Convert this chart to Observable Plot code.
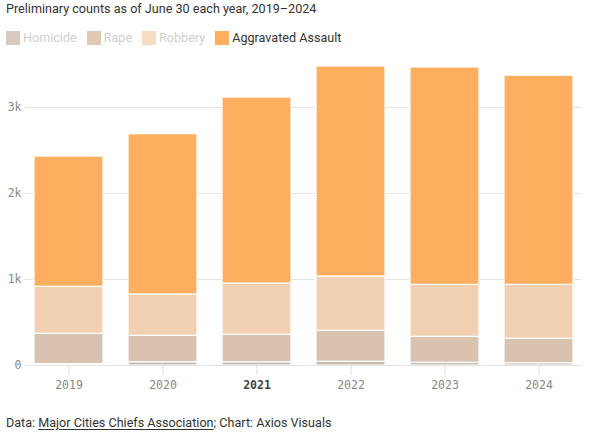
<!DOCTYPE html>
<html>
<head>
<meta charset="utf-8">
<script src="https://cdn.jsdelivr.net/npm/d3@7"></script>
<script src="https://cdn.jsdelivr.net/npm/@observablehq/plot@0.6"></script>
<style>
  html, body { margin: 0; padding: 0; background: #fff; }
  #wrap { position: relative; width: 615px; height: 435px; font-family: Roboto, "Noto Sans", sans-serif; color: #333; }
  #title { position: absolute; left: 6px; top: 1px; font-size: 12.6px; color: #333; white-space: nowrap; }
  #legend { position: absolute; left: 6px; top: 30px; display: flex; align-items: center; font-size: 12.6px; white-space: nowrap; }
  .item { display: flex; align-items: center; margin-right: 10px; }
  .sw { width: 14px; height: 14px; margin-right: 3px; }
  #chart { position: absolute; left: 0; top: 50px; }
  #caption { position: absolute; left: 6px; top: 415px; font-size: 12.6px; color: #333; white-space: nowrap; }
  #caption u { text-decoration: underline; text-underline-offset: 2px; }
</style>
</head>
<body>
<div id="wrap">
  <div id="title">Preliminary counts as of June 30 each year, 2019–2024</div>
  <div id="legend"></div>
  <div id="chart"></div>
  <div id="caption">Data: <u>Major Cities Chiefs Association</u>; Chart: Axios Visuals</div>
</div>
<script>
const years = ["2019", "2020", "2021", "2022", "2023", "2024"];
const crimes = ["Homicide", "Rape", "Robbery", "Aggravated Assault"];
const homicide = [15, 38, 38, 43, 31, 27];
const rape = [353, 307, 319, 360, 302, 283];
const robbery = [547, 481, 596, 632, 605, 628];
const assault = [1515, 1864, 2163, 2442, 2527, 2432];
const yTicks = [0, 1000, 2000, 3000];
const highlightYear = "2021";

const colors = ["#c9b8ac", "#d9c3b0", "#f2d1b2", "#fdae5e"];
const legendSwatch = ["#d8cac0", "#e0c9b4", "#f6dcc2", "#fdae5e"];
const legendText = ["#cfcfcf", "#cfcfcf", "#cfcfcf", "#333333"];

const series = [homicide, rape, robbery, assault];
const data = [];
years.forEach((y, i) => {
  crimes.forEach((c, j) => data.push({year: y, crime: c, value: series[j][i]}));
});

// legend
const legend = document.getElementById("legend");
crimes.forEach((c, j) => {
  const it = document.createElement("div");
  it.className = "item";
  it.innerHTML = `<div class="sw" style="background:${legendSwatch[j]}"></div><span style="color:${legendText[j]}">${c}</span>`;
  legend.appendChild(it);
});

const chart = Plot.plot({
  width: 615,
  height: 350,
  marginTop: 14,
  marginBottom: 35,
  marginLeft: 25,
  marginRight: 34,
  style: {fontFamily: "'DejaVu Sans Mono', monospace", fontSize: "11.5px", background: "transparent"},
  x: {domain: years, paddingInner: 0.27, paddingOuter: 0.07, label: null},
  y: {domain: [0, 3500], label: null},
  color: {domain: crimes, range: colors},
  marks: [
    Plot.gridY(yTicks, {stroke: "#e3e3e3", strokeOpacity: 1}),
    Plot.barY(data, {x: "year", y: "value", fill: "crime", order: crimes, stroke: "white", strokeWidth: 1.2}),
    Plot.ruleY([0], {stroke: "#e3e3e3"}),
    Plot.axisY(yTicks, {tickSize: 0, tickPadding: 4, fill: "#888",
      tickFormat: d => d === 0 ? "0" : (d / 1000) + "k"}),
    Plot.axisX({tickSize: 10, tickPadding: 5, stroke: "#dddddd", fill: "#888"})
  ]
});
document.getElementById("chart").appendChild(chart);
d3.select(chart).selectAll("text").filter(function() { return this.textContent === highlightYear; })
  .attr("font-weight", "bold").attr("fill", "#444");
</script>
</body>
</html>
